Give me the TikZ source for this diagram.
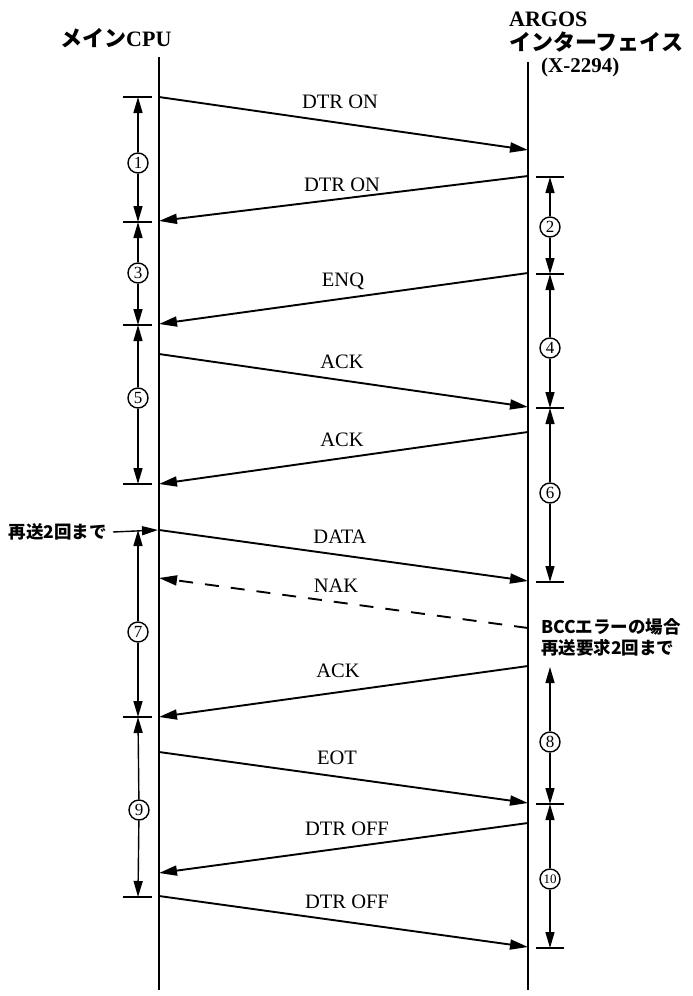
\documentclass[tikz,border=0pt]{standalone}
\usepackage{fontspec}
\setmainfont{Liberation Serif}
\newfontfamily\jpfont{Noto Sans CJK JP}
\usetikzlibrary{arrows.meta}
\tikzset{
  lifeline/.style={line width=1.5pt},
  msg/.style={line width=1.9pt,-{Triangle[length=18pt,width=10pt]}},
  nakmsg/.style={msg,dash pattern=on 14pt off 12pt},
  dimarr/.style={line width=1.4pt,-{Triangle[length=16pt,width=9pt]}},
  tickmark/.style={line width=1.4pt},
  numc/.style={circle,draw,line width=1.4pt,minimum size=20pt,inner sep=0pt,fill=white,font=\fontsize{17}{17}\selectfont},
  lbl/.style={inner sep=0pt,font=\fontsize{20.5}{22}\selectfont},
  head/.style={inner sep=0pt,anchor=west,font=\fontsize{22}{24}\selectfont\bfseries},
  jp/.style={inner sep=0pt,font=\jpfont\bfseries\fontsize{17.5}{21}\selectfont}
}
\begin{document}
\begin{tikzpicture}[x=1pt,y=-1pt]
\useasboundingbox (0,0) rectangle (693,996);
% headers
\node[head] (hcpu) at (60,38) {{\jpfont メイン}CPU};
\node[head] (hargos) at (509,19) {ARGOS};
\node[head] (hif) at (509,42) {\jpfont インターフェイス};
\node[head,font=\fontsize{21}{22}\selectfont\bfseries] (hx) at (541,67) {(X-2294)};
% lifelines
\coordinate (L0) at (159,57);
\coordinate (Lend) at (159,990);
\coordinate (R0) at (528,62);
\coordinate (Rend) at (528,990);
\draw[lifeline] (L0) -- (Lend);
\draw[lifeline] (R0) -- (Rend);
% message end points
\coordinate (m1a) at (159,97);  \coordinate (m1b) at (528,150);
\coordinate (m2a) at (528,176); \coordinate (m2b) at (159,221);
\coordinate (m3a) at (528,273); \coordinate (m3b) at (159,324);
\coordinate (m4a) at (159,354); \coordinate (m4b) at (528,407);
\coordinate (m5a) at (528,432); \coordinate (m5b) at (159,484);
\coordinate (m6a) at (159,530); \coordinate (m6b) at (528,581);
\coordinate (mna) at (528,628); \coordinate (mnb) at (159,578);
\coordinate (m7a) at (528,666); \coordinate (m7b) at (159,717);
\coordinate (m8a) at (159,752); \coordinate (m8b) at (528,803);
\coordinate (m9a) at (528,823); \coordinate (m9b) at (159,873);
\coordinate (m10a) at (159,896); \coordinate (m10b) at (528,947);
\draw[msg] (m1a) -- (m1b);
\draw[msg] (m2a) -- (m2b);
\draw[msg] (m3a) -- (m3b);
\draw[msg] (m4a) -- (m4b);
\draw[msg] (m5a) -- (m5b);
\draw[msg] (m6a) -- (m6b);
\draw[nakmsg] (mna) -- (mnb);
\draw[msg] (m7a) -- (m7b);
\draw[msg] (m8a) -- (m8b);
\draw[msg] (m9a) -- (m9b);
\draw[msg] (m10a) -- (m10b);
% message labels
\node[lbl] (l1) at (340,102) {DTR ON};
\node[lbl] (l2) at (342,185) {DTR ON};
\node[lbl] (l3) at (343,281) {ENQ};
\node[lbl] (l4) at (342,362) {ACK};
\node[lbl] (l5) at (342,440) {ACK};
\node[lbl] (l6) at (340,537) {DATA};
\node[lbl] (ln) at (336,586) {NAK};
\node[lbl] (l7) at (338,671) {ACK};
\node[lbl] (l8) at (337,758) {EOT};
\node[lbl] (l9) at (347,829) {DTR OFF};
\node[lbl] (l10) at (347,902) {DTR OFF};
% left timing
\coordinate (tL1) at (138,97);
\coordinate (tL2) at (138,222);
\coordinate (tL3) at (138,325);
\coordinate (tL4) at (138,484);
\coordinate (tL5) at (138,530);
\coordinate (tL6) at (138,717);
\coordinate (tL7) at (138,897);
\foreach \t in {tL1,tL2,tL3,tL4,tL6,tL7}
  \draw[tickmark] ([xshift=-15pt]\t) -- ([xshift=14pt]\t);
\node[numc] (c1) at (138,163) {1};
\node[numc] (c3) at (138,273) {3};
\node[numc] (c5) at (138,398) {5};
\node[numc] (c7) at (138,632) {7};
\node[numc] (c9) at (139,810) {9};
\draw[dimarr] (c1) -- (tL1); \draw[dimarr] (c1) -- (tL2);
\draw[dimarr] (c3) -- (tL2); \draw[dimarr] (c3) -- (tL3);
\draw[dimarr] (c5) -- (tL3); \draw[dimarr] (c5) -- (tL4);
\draw[dimarr] (c7) -- (tL5); \draw[dimarr] (c7) -- (tL6);
\draw[dimarr] (c9) -- (tL6); \draw[dimarr] (c9) -- (tL7);
% right timing
\coordinate (tR1) at (550,177);
\coordinate (tR2) at (550,274);
\coordinate (tR3) at (550,408);
\coordinate (tR4) at (550,582);
\coordinate (tR5) at (550,667);
\coordinate (tR6) at (550,804);
\coordinate (tR7) at (550,948);
\foreach \t in {tR1,tR2,tR3,tR4,tR6,tR7}
  \draw[tickmark] ([xshift=-14pt]\t) -- ([xshift=14pt]\t);
\node[numc] (c2) at (550,227) {2};
\node[numc] (c4) at (550,348) {4};
\node[numc] (c6) at (550,493) {6};
\node[numc] (c8) at (550,742) {8};
\node[numc,font=\fontsize{13}{13}\selectfont] (c10) at (550,879) {10};
\draw[dimarr] (c2) -- (tR1); \draw[dimarr] (c2) -- (tR2);
\draw[dimarr] (c4) -- (tR2); \draw[dimarr] (c4) -- (tR3);
\draw[dimarr] (c6) -- (tR3); \draw[dimarr] (c6) -- (tR4);
\draw[dimarr] (c8) -- (tR5); \draw[dimarr] (c8) -- (tR6);
\draw[dimarr] (c10) -- (tR6); \draw[dimarr] (c10) -- (tR7);
% side notes
\node[jp,anchor=east] (retry) at (107,532) {再送2回まで};
\coordinate (retryend) at (158,530);
\draw[dimarr] ([xshift=6pt]retry.east) -- (retryend);
\node[jp,anchor=west,align=left] (bcc) at (541,637) {BCCエラーの場合\\再送要求2回まで};
\end{tikzpicture}
\end{document}
